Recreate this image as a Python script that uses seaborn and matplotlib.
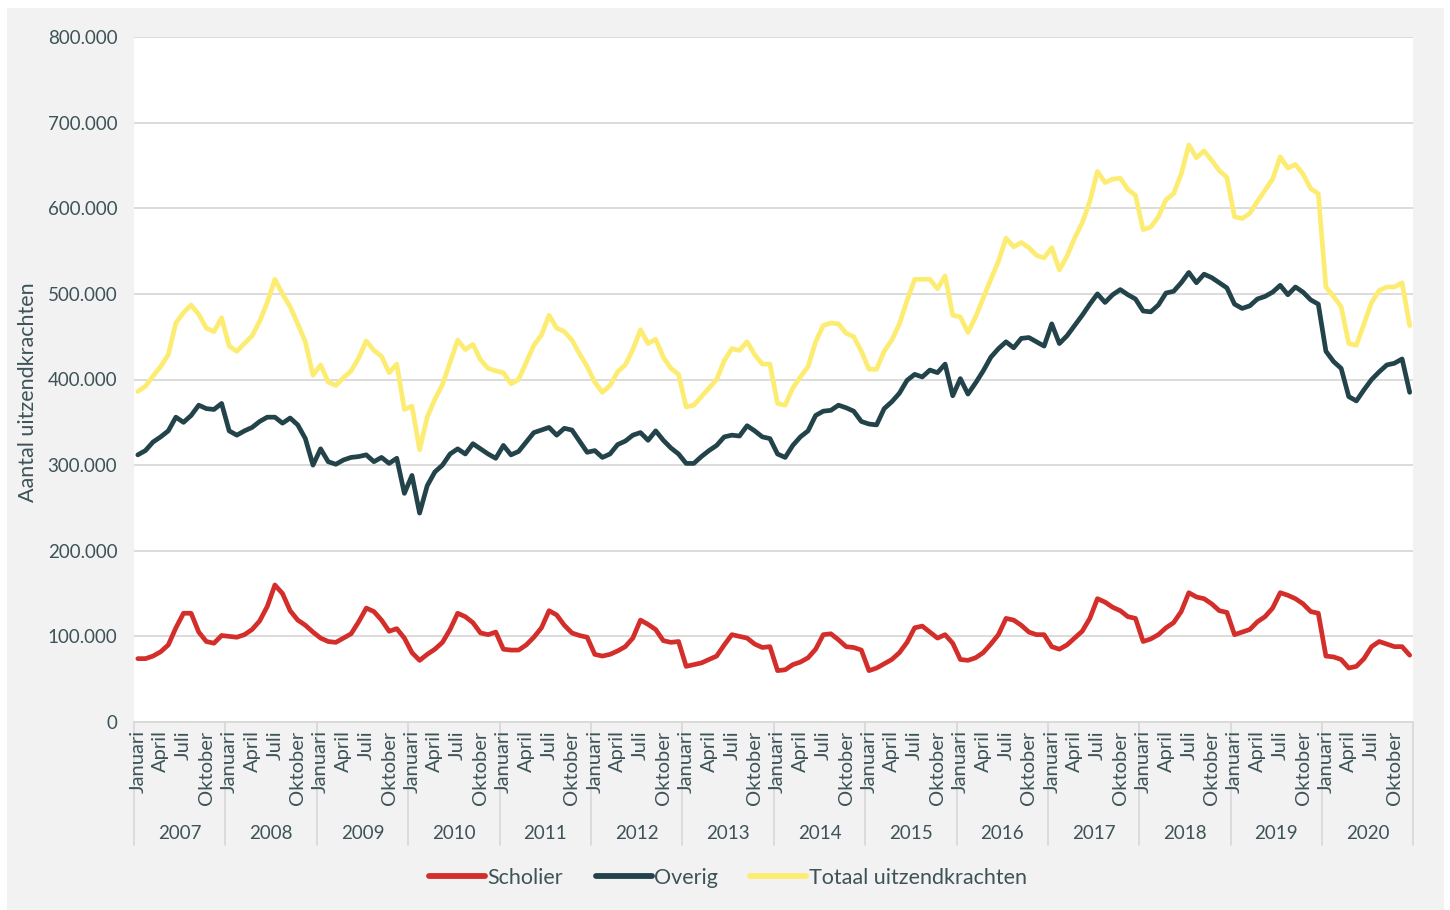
import matplotlib
matplotlib.use("Agg")
import matplotlib.pyplot as plt
import numpy as np
import pandas as pd
import seaborn as sns
from matplotlib.transforms import blended_transform_factory
from matplotlib.patches import Rectangle
from matplotlib.ticker import FuncFormatter

# ---------------- data (in thousands) ----------------
years = list(range(2007, 2021))
months = ["Januari", "Februari", "Maart", "April", "Mei", "Juni", "Juli",
          "Augustus", "September", "Oktober", "November", "December"]
shown_months = ["Januari", "April", "Juli", "Oktober"]
series_names = ["Scholier", "Overig", "Totaal uitzendkrachten"]

scholier = [
    74, 74, 77, 82, 90, 110, 127, 127, 105, 94, 92, 101,          # 2007
    100, 99, 102, 108, 118, 135, 160, 150, 130, 119, 113, 105,    # 2008
    98, 94, 93, 98, 103, 117, 133, 129, 119, 106, 109, 98,        # 2009
    81, 72, 79, 85, 93, 108, 127, 123, 116, 104, 102, 105,        # 2010
    85, 84, 84, 90, 99, 110, 130, 125, 113, 104, 101, 99,         # 2011
    79, 77, 79, 83, 88, 98, 119, 114, 108, 95, 93, 94,            # 2012
    65, 67, 69, 73, 77, 90, 102, 100, 98, 91, 87, 88,             # 2013
    60, 61, 67, 70, 75, 85, 102, 103, 96, 88, 87, 84,             # 2014
    60, 63, 68, 73, 81, 93, 110, 112, 105, 98, 102, 92,           # 2015
    73, 72, 75, 81, 91, 102, 121, 119, 113, 105, 102, 102,        # 2016
    88, 85, 90, 98, 106, 121, 144, 140, 134, 130, 123, 121,       # 2017
    94, 97, 102, 110, 116, 129, 151, 146, 144, 138, 130, 128,     # 2018
    102, 105, 108, 117, 123, 133, 151, 148, 144, 138, 129, 127,   # 2019
    77, 76, 73, 63, 65, 74, 88, 94, 91, 88, 88, 78,               # 2020
]
overig = [
    312, 317, 327, 333, 340, 356, 350, 358, 370, 366, 365, 372,   # 2007
    340, 335, 340, 344, 351, 356, 356, 349, 355, 347, 331, 300,   # 2008
    319, 304, 301, 306, 309, 310, 312, 304, 309, 302, 308, 267,   # 2009
    288, 244, 276, 292, 300, 313, 319, 313, 325, 319, 313, 308,   # 2010
    323, 312, 316, 327, 338, 341, 344, 335, 343, 341, 328, 315,   # 2011
    317, 309, 313, 324, 328, 335, 338, 329, 340, 329, 320, 313,   # 2012
    302, 302, 310, 317, 323, 333, 335, 334, 346, 340, 333, 331,   # 2013
    313, 309, 323, 333, 340, 358, 363, 364, 370, 367, 363, 351,   # 2014
    348, 347, 366, 374, 384, 399, 406, 403, 411, 408, 418, 381,   # 2015
    401, 383, 396, 410, 426, 436, 444, 437, 448, 449, 444, 439,   # 2016
    465, 442, 451, 463, 475, 488, 500, 490, 499, 505, 499, 494,   # 2017
    480, 479, 487, 501, 503, 513, 525, 513, 523, 519, 513, 507,   # 2018
    488, 483, 486, 494, 497, 502, 510, 499, 508, 502, 493, 488,   # 2019
    433, 421, 413, 380, 375, 388, 400, 409, 417, 419, 424, 385,   # 2020
]
totaal = [
    386, 392, 404, 415, 429, 466, 478, 487, 476, 460, 456, 472,   # 2007
    439, 433, 442, 451, 468, 490, 517, 500, 485, 465, 444, 405,   # 2008
    417, 397, 393, 402, 410, 425, 445, 434, 427, 408, 418, 365,   # 2009
    369, 318, 356, 377, 394, 420, 446, 435, 441, 423, 413, 410,   # 2010
    408, 395, 400, 420, 440, 452, 475, 460, 456, 446, 430, 415,   # 2011
    397, 385, 393, 409, 417, 435, 458, 442, 447, 426, 413, 406,   # 2012
    368, 370, 380, 390, 400, 422, 436, 434, 444, 429, 418, 418,   # 2013
    372, 370, 390, 403, 415, 444, 463, 466, 465, 454, 450, 433,   # 2014
    412, 412, 433, 446, 465, 492, 517, 517, 517, 506, 521, 475,   # 2015
    473, 455, 473, 495, 517, 538, 565, 555, 560, 554, 545, 542,   # 2016
    554, 528, 544, 565, 583, 608, 643, 630, 634, 635, 622, 615,   # 2017
    575, 578, 590, 610, 617, 640, 674, 659, 667, 656, 644, 636,   # 2018
    590, 588, 594, 608, 621, 634, 660, 647, 651, 640, 623, 617,   # 2019
    508, 497, 485, 442, 440, 465, 490, 504, 508, 508, 513, 463,   # 2020
]

# ---------------- styling ----------------
sns.set_style("white")
plt.rcParams["font.family"] = ["Lato", "DejaVu Sans"]

TEXT = "#3d5358"
GRID = "#d9d9d9"
BG = "#f2f2f2"
palette = {"Scholier": "#d42e2b", "Overig": "#23434b",
           "Totaal uitzendkrachten": "#fdec72"}

n = len(years) * 12
idx = np.arange(n)
df = pd.concat([
    pd.DataFrame({"maand": idx, "aantal": np.array(vals) * 1000, "reeks": name})
    for name, vals in zip(series_names, [scholier, overig, totaal])
], ignore_index=True)

W, H = 1450, 910
fig = plt.figure(figsize=(W / 100, H / 100), dpi=100, facecolor="white")
fig.add_artist(Rectangle((7 / W, 0), (1444 - 7) / W, (H - 8) / H,
                         transform=fig.transFigure, facecolor=BG,
                         edgecolor="none", zorder=-10))

left, right, top, bottom = 134, 1413.5, 37, 722
ax = fig.add_axes([left / W, 1 - bottom / H, (right - left) / W, (bottom - top) / H])
ax.set_facecolor("white")

sns.lineplot(data=df, x="maand", y="aantal", hue="reeks", hue_order=series_names,
             palette=palette, linewidth=3.4, ax=ax, legend=True,
             solid_joinstyle="round", solid_capstyle="round")

ax.set_xlim(-0.5, n - 0.5)
ax.set_ylim(0, 800000)
ax.set_yticks(np.arange(0, 800001, 100000))
ax.yaxis.set_major_formatter(FuncFormatter(lambda v, p: f"{int(v):,}".replace(",", ".")))
ax.yaxis.grid(True, color=GRID, linewidth=1.3)
ax.set_axisbelow(True)
for s in ["top", "right", "left"]:
    ax.spines[s].set_visible(False)
ax.spines["bottom"].set_color(GRID)
ax.spines["bottom"].set_linewidth(1.3)

tick_pos = [y * 12 + months.index(m) for y in range(len(years)) for m in shown_months]
tick_lab = [m for y in range(len(years)) for m in shown_months]
ax.set_xticks(tick_pos)
ax.set_xticklabels(tick_lab, rotation=90, ha="center", va="top")
ax.tick_params(axis="x", length=0, pad=6, labelsize=14.5, colors=TEXT)
ax.tick_params(axis="y", length=0, pad=12, labelsize=13.5, colors=TEXT)
ax.set_xlabel("")
ax.set_ylabel("")

blend = blended_transform_factory(ax.transData, ax.transAxes)
for k in range(len(years) + 1):
    ax.plot([12 * k - 0.5] * 2, [0, -0.18], transform=blend, clip_on=False,
            color=GRID, linewidth=1.3, zorder=0.1)
for k, yr in enumerate(years):
    ax.text(12 * k + 5.5, -0.1635, str(yr), transform=blend, ha="center",
            va="center", fontsize=13.5, color=TEXT)

fig.text(28 / W, 1 - 392 / H, "Aantal uitzendkrachten", rotation=90,
         ha="center", va="center", fontsize=15.5, color=TEXT)

handles, labels = ax.get_legend_handles_labels()
ax.get_legend().remove()
for h in handles:
    h.set_linewidth(4.2)
leg = fig.legend(handles, labels, loc="center", bbox_to_anchor=(728 / W, 1 - 878 / H),
                 ncol=3, frameon=False, fontsize=15.5, handlelength=2.6,
                 handletextpad=0.12, columnspacing=1.5, labelcolor=TEXT)

fig.savefig("out.png", dpi=100, facecolor=fig.get_facecolor())
